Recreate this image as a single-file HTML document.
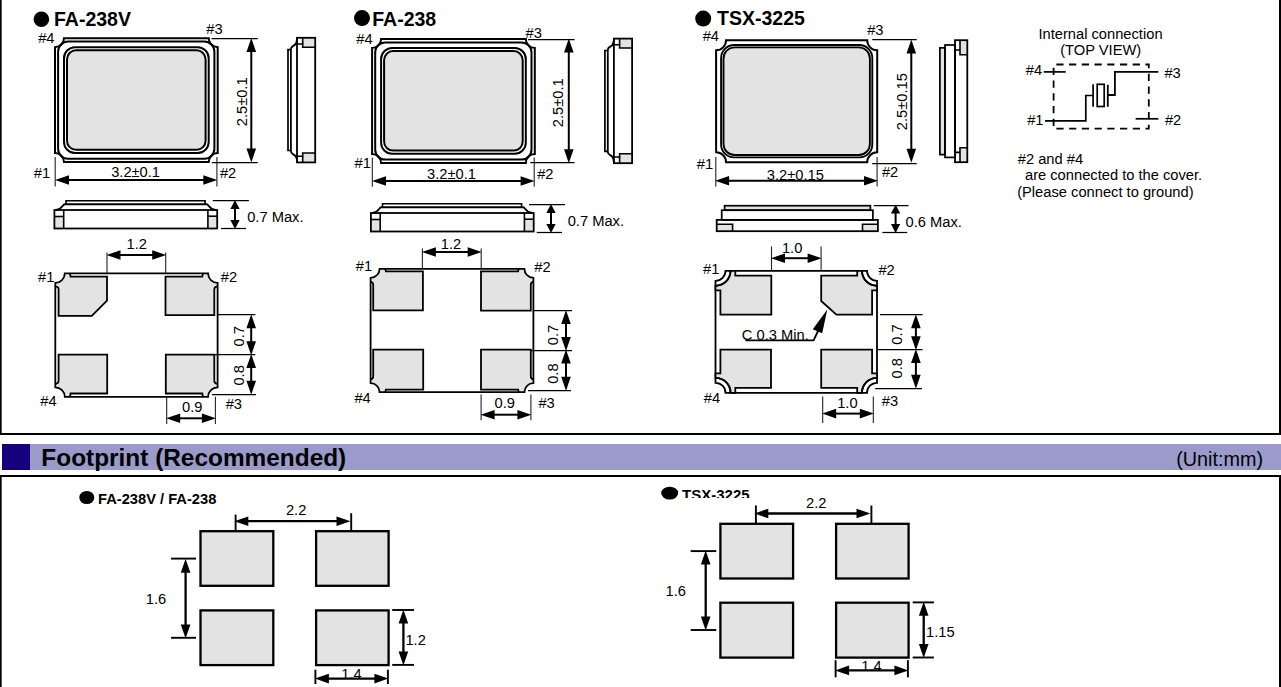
<!DOCTYPE html>
<html><head><meta charset="utf-8"><style>
html,body{margin:0;padding:0;background:#fff;width:1281px;height:687px;overflow:hidden}
svg{display:block}
text{font-family:"Liberation Sans",sans-serif;fill:#000}
</style></head><body>
<svg width="1281" height="687" viewBox="0 0 1281 687">
<line x1="0.8" y1="0" x2="0.8" y2="434" stroke="#000" stroke-width="1.7"/>
<line x1="1280" y1="0" x2="1280" y2="434" stroke="#000" stroke-width="2"/>
<line x1="0" y1="434" x2="1281" y2="434" stroke="#000" stroke-width="2"/>
<line x1="0" y1="476" x2="1281" y2="476" stroke="#000" stroke-width="2"/>
<line x1="0.8" y1="476" x2="0.8" y2="687" stroke="#000" stroke-width="1.7"/>
<line x1="1280" y1="476" x2="1280" y2="687" stroke="#000" stroke-width="2"/>
<rect x="2" y="444" width="1279" height="26" fill="#9b9bcb"/>
<rect x="2" y="444" width="28" height="26" fill="#16007d"/>
<text x="41.35" y="466" font-size="24.4" font-weight="bold">Footprint (Recommended)</text>
<text x="1176.26" y="466" font-size="19.8">(Unit:mm)</text>
<ellipse cx="41.4" cy="19.3" rx="7.8" ry="7.8" fill="#000"/>
<text x="53.98" y="26" font-size="19.5" font-weight="bold">FA-238V</text>
<path d="M64,38.2 H208.7 A9,9 0 0 0 217.7,47.2 V153.1 A9,9 0 0 0 208.7,162.1 H64 A9,9 0 0 0 55,153.1 V47.2 A9,9 0 0 0 64,38.2 Z" fill="none" stroke="#000" stroke-width="2.0"/>
<rect x="58.1" y="41.6" width="156.3" height="117.2" rx="10" ry="10" fill="none" stroke="#000" stroke-width="2.0"/>
<rect x="64" y="47.2" width="144.7" height="105.8" rx="11" ry="11" fill="none" stroke="#000" stroke-width="2.0"/>
<rect x="67" y="50.3" width="138.6" height="99.5" rx="9" ry="9" fill="#e3e3e3" stroke="#000" stroke-width="2.0"/>
<rect x="302.7" y="37.8" width="12.5" height="9.4" fill="#e3e3e3"/>
<rect x="302.7" y="153" width="12.5" height="9.4" fill="#e3e3e3"/>
<rect x="297" y="37.8" width="18.2" height="124.6" fill="none" stroke="#000" stroke-width="1.8"/>
<path d="M297,44 H302.7 V47.2 H315.2" fill="none" stroke="#000" stroke-width="1.6"/>
<path d="M302.7,37.8 V44" fill="none" stroke="#000" stroke-width="1.6"/>
<path d="M297,156.2 H302.7 V153 H315.2" fill="none" stroke="#000" stroke-width="1.6"/>
<path d="M302.7,162.4 V156.2" fill="none" stroke="#000" stroke-width="1.6"/>
<path d="M290.9,49.7 H288 V150.5 H290.9" fill="none" stroke="#000" stroke-width="1.7"/>
<path d="M297,38.5 C297,41 296.5,43 295.2,44.5 C293.5,46.2 290.9,46.3 290.9,49 V151.2 C290.9,153.9 293.5,154 295.2,155.7 C296.5,157.2 297,159.2 297,161.7" fill="none" stroke="#000" stroke-width="1.8"/>
<rect x="54.4" y="216.5" width="9.3" height="12" fill="#e3e3e3"/>
<rect x="207.9" y="216.2" width="9.3" height="12.3" fill="#e3e3e3"/>
<rect x="54.4" y="210" width="162.8" height="18.5" fill="none" stroke="#000" stroke-width="1.8"/>
<line x1="63.7" y1="210" x2="63.7" y2="228.5" stroke="#000" stroke-width="1.6"/>
<line x1="207.9" y1="210" x2="207.9" y2="228.5" stroke="#000" stroke-width="1.6"/>
<line x1="54.4" y1="216.5" x2="63.7" y2="216.5" stroke="#000" stroke-width="1.6"/>
<line x1="207.9" y1="216.2" x2="217.2" y2="216.2" stroke="#000" stroke-width="1.6"/>
<path d="M66,204.3 V200.8 H205.1 V204.3" fill="none" stroke="#000" stroke-width="1.6"/>
<path d="M56,210 C62.3,209.6 62.5,204.3 64.8,204.3 H206.6 C208.9,204.3 209.1,209.6 215.6,210" fill="none" stroke="#000" stroke-width="1.9"/>
<text x="38.13" y="42.8" font-size="14.7">#4</text>
<text x="206.23" y="33.8" font-size="14.7">#3</text>
<text x="33.73" y="177.7" font-size="14.7">#1</text>
<text x="219.93" y="177.9" font-size="14.7">#2</text>
<line x1="55.2" y1="157" x2="55.2" y2="186.6" stroke="#222" stroke-width="1.1"/>
<line x1="216.9" y1="157" x2="216.9" y2="186.6" stroke="#222" stroke-width="1.1"/>
<text x="111.15" y="176.7" font-size="14.7">3.2±0.1</text>
<line x1="68" y1="180" x2="204.3" y2="180" stroke="#000" stroke-width="2.0"/>
<polygon points="55,180 69,175.2 69,184.8" fill="#000"/>
<polygon points="217.3,180 203.3,175.2 203.3,184.8" fill="#000"/>
<line x1="211.6" y1="38.5" x2="257.7" y2="38.5" stroke="#000" stroke-width="1.25"/>
<line x1="211.8" y1="162.5" x2="257.7" y2="162.5" stroke="#000" stroke-width="1.25"/>
<line x1="251.3" y1="51" x2="251.3" y2="149.5" stroke="#000" stroke-width="2.0"/>
<polygon points="251.3,38 246.5,52 256.1,52" fill="#000"/>
<polygon points="251.3,162.5 246.5,148.5 256.1,148.5" fill="#000"/>
<text transform="translate(246.5,126.28) rotate(-90)" x="0" y="0" font-size="14.7">2.5±0.1</text>
<line x1="212.8" y1="200.5" x2="248.9" y2="200.5" stroke="#000" stroke-width="1.25"/>
<line x1="221" y1="228.5" x2="246.1" y2="228.5" stroke="#000" stroke-width="1.25"/>
<line x1="235" y1="208" x2="235" y2="221" stroke="#000" stroke-width="2.0"/>
<polygon points="235,200 230.35,209 239.65,209" fill="#000"/>
<polygon points="235,229 230.35,220 239.65,220" fill="#000"/>
<text x="247.21" y="221.7" font-size="14.7">0.7 Max.</text>
<path d="M58.6,315.9 V289.3 L55.3,283.3 V282.8 A9.5,9.5 0 0 0 64.8,273.3 H70.6 L70.6,276.6 H107 V300.7 L91.8,315.9 Z" fill="#e3e3e3" stroke="none"/>
<path d="M69.1,273.6 Q70.4,273.6 70.6,276.6 H107 V300.7 L91.8,315.9 H58.6 V289.3 Q58.6,286.6 55.6,286.3" fill="none" stroke="#000" stroke-width="1.8"/>
<path d="M214.3,315.2 V289.3 L217.6,283.3 V282.8 A9.5,9.5 0 0 1 208.1,273.3 H202.3 L202.3,276.6 H165.5 V315.2 Z" fill="#e3e3e3" stroke="none"/>
<path d="M203.8,273.6 Q202.5,273.6 202.3,276.6 H165.5 V315.2 H214.3 V289.3 Q214.3,286.6 217.3,286.3" fill="none" stroke="#000" stroke-width="1.8"/>
<path d="M58.6,354.6 V380.8 L55.3,386.8 V387.3 A9.5,9.5 0 0 1 64.8,396.8 H70.6 L70.6,393.5 H107.2 V354.6 Z" fill="#e3e3e3" stroke="none"/>
<path d="M69.1,396.5 Q70.4,396.5 70.6,393.5 H107.2 V354.6 H58.6 V380.8 Q58.6,383.5 55.6,383.8" fill="none" stroke="#000" stroke-width="1.8"/>
<path d="M214.3,354.6 V380.8 L217.6,386.8 V387.3 A9.5,9.5 0 0 0 208.1,396.8 H202.3 L202.3,393.5 H165.8 V354.6 Z" fill="#e3e3e3" stroke="none"/>
<path d="M203.8,396.5 Q202.5,396.5 202.3,393.5 H165.8 V354.6 H214.3 V380.8 Q214.3,383.5 217.3,383.8" fill="none" stroke="#000" stroke-width="1.8"/>
<path d="M64.8,273.3 H208.1 A9.5,9.5 0 0 0 217.6,282.8 V387.3 A9.5,9.5 0 0 0 208.1,396.8 H64.8 A9.5,9.5 0 0 0 55.3,387.3 V282.8 A9.5,9.5 0 0 0 64.8,273.3 Z" fill="none" stroke="#000" stroke-width="1.8"/>
<text x="38.03" y="281.8" font-size="14.7">#1</text>
<text x="220.73" y="281.7" font-size="14.7">#2</text>
<text x="40.23" y="406.1" font-size="14.7">#4</text>
<text x="225.63" y="409" font-size="14.7">#3</text>
<line x1="107" y1="252.5" x2="107" y2="273.3" stroke="#222" stroke-width="1.1"/>
<line x1="165.7" y1="252.5" x2="165.7" y2="273.3" stroke="#222" stroke-width="1.1"/>
<line x1="119.5" y1="255" x2="153.2" y2="255" stroke="#000" stroke-width="2.0"/>
<polygon points="106.5,255 120.5,250.2 120.5,259.8" fill="#000"/>
<polygon points="166.2,255 152.2,250.2 152.2,259.8" fill="#000"/>
<text x="126.6" y="248.9" font-size="14.7">1.2</text>
<line x1="217.8" y1="314.5" x2="255.3" y2="314.5" stroke="#000" stroke-width="1.25"/>
<line x1="215" y1="354.5" x2="255.3" y2="354.5" stroke="#000" stroke-width="1.25"/>
<line x1="212" y1="394.5" x2="256" y2="394.5" stroke="#000" stroke-width="1.25"/>
<line x1="251.2" y1="327.3" x2="251.2" y2="342.3" stroke="#000" stroke-width="2.0"/>
<polygon points="251.2,314.3 246.4,328.3 256,328.3" fill="#000"/>
<polygon points="251.2,355.3 246.4,341.3 256,341.3" fill="#000"/>
<line x1="251.2" y1="366.9" x2="251.2" y2="381.8" stroke="#000" stroke-width="2.0"/>
<polygon points="251.2,353.9 246.4,367.9 256,367.9" fill="#000"/>
<polygon points="251.2,394.8 246.4,380.8 256,380.8" fill="#000"/>
<text transform="translate(243.7,346.54) rotate(-90)" x="0" y="0" font-size="14.7">0.7</text>
<text transform="translate(243.7,385.6) rotate(-90)" x="0" y="0" font-size="14.7">0.8</text>
<line x1="166.7" y1="396.8" x2="166.7" y2="424" stroke="#222" stroke-width="1.1"/>
<line x1="215.4" y1="396.8" x2="215.4" y2="424" stroke="#222" stroke-width="1.1"/>
<line x1="179.2" y1="418.3" x2="202.9" y2="418.3" stroke="#000" stroke-width="2.0"/>
<polygon points="166.2,418.3 180.2,413.5 180.2,423.1" fill="#000"/>
<polygon points="215.9,418.3 201.9,413.5 201.9,423.1" fill="#000"/>
<text x="182.01" y="411.8" font-size="14.7">0.9</text>
<ellipse cx="362" cy="18.1" rx="8" ry="8" fill="#000"/>
<text x="372.28" y="25.5" font-size="19.5" font-weight="bold">FA-238</text>
<path d="M381.1,39 H525.8 A9,9 0 0 0 534.8,48 V153.9 A9,9 0 0 0 525.8,162.9 H381.1 A9,9 0 0 0 372.1,153.9 V48 A9,9 0 0 0 381.1,39 Z" fill="none" stroke="#000" stroke-width="2.0"/>
<rect x="375.2" y="42.4" width="156.3" height="117.2" rx="10" ry="10" fill="none" stroke="#000" stroke-width="2.0"/>
<rect x="381.1" y="48" width="144.7" height="105.8" rx="11" ry="11" fill="none" stroke="#000" stroke-width="2.0"/>
<rect x="384.1" y="51.1" width="138.6" height="99.5" rx="9" ry="9" fill="#e3e3e3" stroke="#000" stroke-width="2.0"/>
<rect x="619.6" y="38.6" width="12.5" height="9.4" fill="#e3e3e3"/>
<rect x="619.6" y="153.8" width="12.5" height="9.4" fill="#e3e3e3"/>
<rect x="613.9" y="38.6" width="18.2" height="124.6" fill="none" stroke="#000" stroke-width="1.8"/>
<path d="M613.9,44.8 H619.6 V48 H632.1" fill="none" stroke="#000" stroke-width="1.6"/>
<path d="M619.6,38.6 V44.8" fill="none" stroke="#000" stroke-width="1.6"/>
<path d="M613.9,157 H619.6 V153.8 H632.1" fill="none" stroke="#000" stroke-width="1.6"/>
<path d="M619.6,163.2 V157" fill="none" stroke="#000" stroke-width="1.6"/>
<path d="M607.8,50.5 H604.9 V151.3 H607.8" fill="none" stroke="#000" stroke-width="1.7"/>
<path d="M613.9,39.3 C613.9,41.8 613.4,43.8 612.1,45.3 C610.4,47 607.8,47.1 607.8,49.8 V152 C607.8,154.7 610.4,154.8 612.1,156.5 C613.4,158 613.9,160 613.9,162.5" fill="none" stroke="#000" stroke-width="1.8"/>
<rect x="370.9" y="219.5" width="9.3" height="12" fill="#e3e3e3"/>
<rect x="524.4" y="219.2" width="9.3" height="12.3" fill="#e3e3e3"/>
<rect x="370.9" y="213" width="162.8" height="18.5" fill="none" stroke="#000" stroke-width="1.8"/>
<line x1="380.2" y1="213" x2="380.2" y2="231.5" stroke="#000" stroke-width="1.6"/>
<line x1="524.4" y1="213" x2="524.4" y2="231.5" stroke="#000" stroke-width="1.6"/>
<line x1="370.9" y1="219.5" x2="380.2" y2="219.5" stroke="#000" stroke-width="1.6"/>
<line x1="524.4" y1="219.2" x2="533.7" y2="219.2" stroke="#000" stroke-width="1.6"/>
<path d="M382.5,207.3 V203.8 H521.6 V207.3" fill="none" stroke="#000" stroke-width="1.6"/>
<path d="M372.5,213 C378.8,212.6 379,207.3 381.3,207.3 H523.1 C525.4,207.3 525.6,212.6 532.1,213" fill="none" stroke="#000" stroke-width="1.9"/>
<text x="356.23" y="43.8" font-size="14.7">#4</text>
<text x="525.53" y="38.2" font-size="14.7">#3</text>
<text x="354.53" y="167.8" font-size="14.7">#1</text>
<text x="537.13" y="179" font-size="14.7">#2</text>
<line x1="372.3" y1="157.5" x2="372.3" y2="186.7" stroke="#222" stroke-width="1.1"/>
<line x1="534.2" y1="157.5" x2="534.2" y2="186.7" stroke="#222" stroke-width="1.1"/>
<text x="427.05" y="179" font-size="14.7">3.2±0.1</text>
<line x1="385" y1="181" x2="521.6" y2="181" stroke="#000" stroke-width="2.0"/>
<polygon points="372,181 386,176.2 386,185.8" fill="#000"/>
<polygon points="534.6,181 520.6,176.2 520.6,185.8" fill="#000"/>
<line x1="528" y1="39.5" x2="574.6" y2="39.5" stroke="#000" stroke-width="1.25"/>
<line x1="530.3" y1="162.5" x2="574.6" y2="162.5" stroke="#000" stroke-width="1.25"/>
<line x1="568.8" y1="51.6" x2="568.8" y2="150.3" stroke="#000" stroke-width="2.0"/>
<polygon points="568.8,38.6 564,52.6 573.6,52.6" fill="#000"/>
<polygon points="568.8,163.3 564,149.3 573.6,149.3" fill="#000"/>
<text transform="translate(563.4,127.18) rotate(-90)" x="0" y="0" font-size="14.7">2.5±0.1</text>
<line x1="529" y1="204.5" x2="565" y2="204.5" stroke="#000" stroke-width="1.25"/>
<line x1="536.7" y1="232.5" x2="562" y2="232.5" stroke="#000" stroke-width="1.25"/>
<line x1="551" y1="212" x2="551" y2="225" stroke="#000" stroke-width="2.0"/>
<polygon points="551,204 546.35,213 555.65,213" fill="#000"/>
<polygon points="551,233 546.35,224 555.65,224" fill="#000"/>
<text x="567.71" y="225.9" font-size="14.7">0.7 Max.</text>
<path d="M373.2,310.3 V284.8 L370.6,278.3 V277.8 A9,9 0 0 0 379.6,268.8 H385.9 L385.9,271.4 H422.9 V310.3 Z" fill="#e3e3e3" stroke="none"/>
<path d="M384.4,269.1 Q385.7,269.1 385.9,271.4 H422.9 V310.3 H373.2 V284.8 Q373.2,282.1 370.9,281.8" fill="none" stroke="#000" stroke-width="1.8"/>
<path d="M530.8,310.6 V284.8 L533.4,278.3 V277.8 A9,9 0 0 1 524.4,268.8 H518.1 L518.1,271.4 H481 V310.6 Z" fill="#e3e3e3" stroke="none"/>
<path d="M519.6,269.1 Q518.3,269.1 518.1,271.4 H481 V310.6 H530.8 V284.8 Q530.8,282.1 533.1,281.8" fill="none" stroke="#000" stroke-width="1.8"/>
<path d="M373.2,349.7 V376.2 L370.6,382.7 V383.2 A9,9 0 0 1 379.6,392.2 H385.9 L385.9,389.6 H423.2 V349.7 Z" fill="#e3e3e3" stroke="none"/>
<path d="M384.4,391.9 Q385.7,391.9 385.9,389.6 H423.2 V349.7 H373.2 V376.2 Q373.2,378.9 370.9,379.2" fill="none" stroke="#000" stroke-width="1.8"/>
<path d="M530.8,349.7 V376.2 L533.4,382.7 V383.2 A9,9 0 0 0 524.4,392.2 H518.1 L518.1,389.6 H481 V349.7 Z" fill="#e3e3e3" stroke="none"/>
<path d="M519.6,391.9 Q518.3,391.9 518.1,389.6 H481 V349.7 H530.8 V376.2 Q530.8,378.9 533.1,379.2" fill="none" stroke="#000" stroke-width="1.8"/>
<path d="M379.6,268.8 H524.4 A9,9 0 0 0 533.4,277.8 V383.2 A9,9 0 0 0 524.4,392.2 H379.6 A9,9 0 0 0 370.6,383.2 V277.8 A9,9 0 0 0 379.6,268.8 Z" fill="none" stroke="#000" stroke-width="1.8"/>
<text x="355.83" y="271.1" font-size="14.7">#1</text>
<text x="534.33" y="271.8" font-size="14.7">#2</text>
<text x="354.43" y="402.7" font-size="14.7">#4</text>
<text x="538.43" y="407.6" font-size="14.7">#3</text>
<line x1="422.4" y1="248.4" x2="422.4" y2="268.8" stroke="#222" stroke-width="1.1"/>
<line x1="481.2" y1="248.4" x2="481.2" y2="268.8" stroke="#222" stroke-width="1.1"/>
<line x1="434.9" y1="252" x2="468.7" y2="252" stroke="#000" stroke-width="2.0"/>
<polygon points="421.9,252 435.9,247.2 435.9,256.8" fill="#000"/>
<polygon points="481.7,252 467.7,247.2 467.7,256.8" fill="#000"/>
<text x="440.8" y="249.3" font-size="14.7">1.2</text>
<line x1="533.4" y1="310.5" x2="572" y2="310.5" stroke="#000" stroke-width="1.25"/>
<line x1="531" y1="350.5" x2="572" y2="350.5" stroke="#000" stroke-width="1.25"/>
<line x1="528" y1="390.5" x2="571" y2="390.5" stroke="#000" stroke-width="1.25"/>
<line x1="566" y1="323" x2="566" y2="338" stroke="#000" stroke-width="2.0"/>
<polygon points="566,310 561.2,324 570.8,324" fill="#000"/>
<polygon points="566,351 561.2,337 570.8,337" fill="#000"/>
<line x1="566" y1="362.6" x2="566" y2="377.7" stroke="#000" stroke-width="2.0"/>
<polygon points="566,349.6 561.2,363.6 570.8,363.6" fill="#000"/>
<polygon points="566,390.7 561.2,376.7 570.8,376.7" fill="#000"/>
<text transform="translate(558,345.24) rotate(-90)" x="0" y="0" font-size="14.7">0.7</text>
<text transform="translate(558,383.8) rotate(-90)" x="0" y="0" font-size="14.7">0.8</text>
<line x1="481.1" y1="394.5" x2="481.1" y2="420.3" stroke="#222" stroke-width="1.1"/>
<line x1="530.9" y1="394.5" x2="530.9" y2="420.3" stroke="#222" stroke-width="1.1"/>
<line x1="493.6" y1="414.7" x2="518.4" y2="414.7" stroke="#000" stroke-width="2.0"/>
<polygon points="480.6,414.7 494.6,409.9 494.6,419.5" fill="#000"/>
<polygon points="531.4,414.7 517.4,409.9 517.4,419.5" fill="#000"/>
<text x="494.51" y="407.6" font-size="14.7">0.9</text>
<ellipse cx="703.2" cy="18.6" rx="8" ry="8" fill="#000"/>
<text x="717.06" y="25.4" font-size="19.5" font-weight="bold">TSX-3225</text>
<path d="M726.1,40.3 H867.2 A10,10 0 0 0 877.2,50.3 V152.3 A10,10 0 0 0 867.2,162.3 H726.1 A10,10 0 0 0 716.1,152.3 V50.3 A10,10 0 0 0 726.1,40.3 Z" fill="none" stroke="#000" stroke-width="2.0"/>
<rect x="721.1" y="45" width="151.2" height="112.4" rx="13" ry="13" fill="none" stroke="#000" stroke-width="1.9"/>
<rect x="723.5" y="47.4" width="146.4" height="107.6" rx="11" ry="11" fill="#e3e3e3" stroke="#000" stroke-width="1.9"/>
<text x="702.63" y="40.8" font-size="14.7">#4</text>
<text x="867.13" y="34.8" font-size="14.7">#3</text>
<text x="696.73" y="169" font-size="14.7">#1</text>
<text x="881.93" y="177.4" font-size="14.7">#2</text>
<line x1="715.8" y1="157" x2="715.8" y2="186.4" stroke="#222" stroke-width="1.1"/>
<line x1="877.1" y1="157" x2="877.1" y2="186.4" stroke="#222" stroke-width="1.1"/>
<text x="766.85" y="179.8" font-size="14.7">3.2±0.15</text>
<line x1="728.1" y1="180.8" x2="865" y2="180.8" stroke="#000" stroke-width="2.0"/>
<polygon points="715.1,180.8 729.1,176 729.1,185.6" fill="#000"/>
<polygon points="878,180.8 864,176 864,185.6" fill="#000"/>
<line x1="872.2" y1="39.5" x2="916.7" y2="39.5" stroke="#000" stroke-width="1.25"/>
<line x1="872.2" y1="163.5" x2="916.7" y2="163.5" stroke="#000" stroke-width="1.25"/>
<line x1="911.3" y1="52.4" x2="911.3" y2="149.7" stroke="#000" stroke-width="2.0"/>
<polygon points="911.3,39.4 906.5,53.4 916.1,53.4" fill="#000"/>
<polygon points="911.3,162.7 906.5,148.7 916.1,148.7" fill="#000"/>
<text transform="translate(906.8,130.13) rotate(-90)" x="0" y="0" font-size="14.7">2.5±0.15</text>
<rect x="939.9" y="47.8" width="5.1" height="106.8" fill="#e3e3e3"/>
<rect x="960" y="40.2" width="7.3" height="14.5" fill="#e3e3e3"/>
<rect x="960" y="147.7" width="7.3" height="14.5" fill="#e3e3e3"/>
<rect x="939.9" y="47.8" width="5.1" height="106.8" fill="none" stroke="#000" stroke-width="1.7"/>
<rect x="945" y="45" width="10" height="112.4" fill="none" stroke="#000" stroke-width="1.7"/>
<rect x="955" y="40.2" width="12.3" height="122" fill="none" stroke="#000" stroke-width="1.8"/>
<path d="M955,50 H960 V40.2 M960,50 V54.7 H967.3" fill="none" stroke="#000" stroke-width="1.6"/>
<path d="M955,152.4 H960 V162.2 M960,152.4 V147.7 H967.3" fill="none" stroke="#000" stroke-width="1.6"/>
<rect x="716.7" y="224.2" width="15.9" height="7" fill="#e3e3e3"/>
<rect x="862.5" y="224.2" width="15.4" height="7" fill="#e3e3e3"/>
<rect x="724.6" y="205.7" width="145.8" height="4.5" fill="#e3e3e3"/>
<rect x="716.7" y="219.9" width="161.2" height="11.3" fill="none" stroke="#000" stroke-width="1.8"/>
<path d="M716.7,224.2 H732.6 V231.2 M862.5,231.2 V224.2 H877.9" fill="none" stroke="#000" stroke-width="1.6"/>
<rect x="721.7" y="210.2" width="151.2" height="9.7" fill="none" stroke="#000" stroke-width="1.7"/>
<rect x="724.6" y="205.7" width="145.8" height="4.5" fill="none" stroke="#000" stroke-width="1.7"/>
<line x1="873.8" y1="205.5" x2="908.5" y2="205.5" stroke="#000" stroke-width="1.25"/>
<line x1="882.4" y1="232.5" x2="907.3" y2="232.5" stroke="#000" stroke-width="1.25"/>
<line x1="895.6" y1="212.4" x2="895.6" y2="225" stroke="#000" stroke-width="2.0"/>
<polygon points="895.6,204.4 890.95,213.4 900.25,213.4" fill="#000"/>
<polygon points="895.6,233 890.95,224 900.25,224" fill="#000"/>
<text x="905.61" y="227.2" font-size="14.7">0.6 Max.</text>
<g>
<path d="M725.5,270.8 H867 A10,10 0 0 0 877,280.8 V382.8 A10,10 0 0 0 867,392.8 H725.5 A10,10 0 0 0 715.5,382.8 V280.8 A10,10 0 0 0 725.5,270.8 Z" fill="none" stroke="#000" stroke-width="1.8"/>
<path d="M720.4,314.6 V290.3 H715.5 V285.8 A15,15 0 0 0 730.5,270.8 H735.3 V275.7 H771.3 V314.6 Z" fill="#e3e3e3" stroke="#000" stroke-width="1.8"/>
<path d="M715.5,285.8 A15,15 0 0 0 730.5,270.8" fill="none" stroke="#000" stroke-width="1.8"/>
<path d="M872.1,314.6 V290.3 H877 V285.8 A15,15 0 0 1 862,270.8 H857.2 V275.7 H821.2 V301 L836.4,314.6 Z" fill="#e3e3e3" stroke="#000" stroke-width="1.8"/>
<path d="M877,285.8 A15,15 0 0 1 862,270.8" fill="none" stroke="#000" stroke-width="1.8"/>
<path d="M720.4,349.6 V373.3 H715.5 V377.8 A15,15 0 0 1 730.5,392.8 H735.3 V387.9 H771 V349.6 Z" fill="#e3e3e3" stroke="#000" stroke-width="1.8"/>
<path d="M715.5,377.8 A15,15 0 0 1 730.5,392.8" fill="none" stroke="#000" stroke-width="1.8"/>
<path d="M872.1,349.6 V373.3 H877 V377.8 A15,15 0 0 0 862,392.8 H857.2 V387.9 H821.2 V349.6 Z" fill="#e3e3e3" stroke="#000" stroke-width="1.8"/>
<path d="M877,377.8 A15,15 0 0 0 862,392.8" fill="none" stroke="#000" stroke-width="1.8"/>
</g>
<text x="703.03" y="273.9" font-size="14.7">#1</text>
<text x="878.43" y="274.6" font-size="14.7">#2</text>
<text x="703.73" y="403.2" font-size="14.7">#4</text>
<text x="881.73" y="405.7" font-size="14.7">#3</text>
<line x1="771.5" y1="246.4" x2="771.5" y2="270.8" stroke="#222" stroke-width="1.1"/>
<line x1="821.1" y1="246.4" x2="821.1" y2="270.8" stroke="#222" stroke-width="1.1"/>
<line x1="784" y1="258.2" x2="808.6" y2="258.2" stroke="#000" stroke-width="2.0"/>
<polygon points="771,258.2 785,253.4 785,263" fill="#000"/>
<polygon points="821.6,258.2 807.6,253.4 807.6,263" fill="#000"/>
<text x="781.9" y="253" font-size="14.7">1.0</text>
<line x1="880" y1="314.5" x2="922.5" y2="314.5" stroke="#000" stroke-width="1.25"/>
<line x1="877" y1="349.5" x2="922.5" y2="349.5" stroke="#000" stroke-width="1.25"/>
<line x1="875.2" y1="388.5" x2="922" y2="388.5" stroke="#000" stroke-width="1.25"/>
<line x1="915.9" y1="327.2" x2="915.9" y2="337.2" stroke="#000" stroke-width="2.0"/>
<polygon points="915.9,314.2 911.1,328.2 920.7,328.2" fill="#000"/>
<polygon points="915.9,350.2 911.1,336.2 920.7,336.2" fill="#000"/>
<line x1="915.9" y1="362" x2="915.9" y2="375.7" stroke="#000" stroke-width="2.0"/>
<polygon points="915.9,349 911.1,363 920.7,363" fill="#000"/>
<polygon points="915.9,388.7 911.1,374.7 920.7,374.7" fill="#000"/>
<text transform="translate(901.7,344.74) rotate(-90)" x="0" y="0" font-size="14.7">0.7</text>
<text transform="translate(901.7,378.4) rotate(-90)" x="0" y="0" font-size="14.7">0.8</text>
<text x="741.87" y="339.8" font-size="14.7">C 0.3 Min.</text>
<path d="M745.5,340.3 H813.6 L818.5,330" fill="none" stroke="#000" stroke-width="1.8"/>
<polygon points="827.3,309.6 812.8,329.2 822.2,333.2" fill="#000"/>
<line x1="822.7" y1="396.6" x2="822.7" y2="423.1" stroke="#222" stroke-width="1.1"/>
<line x1="873.3" y1="396.6" x2="873.3" y2="423.1" stroke="#222" stroke-width="1.1"/>
<line x1="835.2" y1="413.6" x2="860.8" y2="413.6" stroke="#000" stroke-width="2.0"/>
<polygon points="822.2,413.6 836.2,408.8 836.2,418.4" fill="#000"/>
<polygon points="873.8,413.6 859.8,408.8 859.8,418.4" fill="#000"/>
<text x="837.2" y="407.6" font-size="14.7">1.0</text>
<text x="1038.44" y="38.8" font-size="14.7">Internal connection</text>
<text x="1060.18" y="55" font-size="14.7">(TOP VIEW)</text>
<rect x="1053.6" y="64.5" width="95.2" height="64.2" fill="none" stroke="#000" stroke-width="1.8" stroke-dasharray="7.2 5.53" stroke-dashoffset="10"/>
<line x1="1043.8" y1="71.9" x2="1065.7" y2="71.9" stroke="#000" stroke-width="1.7"/>
<path d="M1158.4,71.9 H1114.9 V95 H1107.8" fill="none" stroke="#000" stroke-width="1.8"/>
<path d="M1045,120.9 H1085.8 V95.5 H1093" fill="none" stroke="#000" stroke-width="1.7"/>
<line x1="1135.6" y1="118.8" x2="1158.4" y2="118.8" stroke="#000" stroke-width="1.7"/>
<line x1="1093.1" y1="84.3" x2="1093.1" y2="106.8" stroke="#000" stroke-width="1.7"/>
<line x1="1107.8" y1="84.8" x2="1107.8" y2="106.8" stroke="#000" stroke-width="1.8"/>
<rect x="1097.2" y="84.3" width="7" height="22.2" fill="none" stroke="#000" stroke-width="1.7"/>
<text x="1025.73" y="75.1" font-size="14.7">#4</text>
<text x="1164.43" y="77.7" font-size="14.7">#3</text>
<text x="1027.13" y="124.5" font-size="14.7">#1</text>
<text x="1164.93" y="124.5" font-size="14.7">#2</text>
<text x="1017.73" y="163.7" font-size="14.7">#2 and #4</text>
<text x="1024.98" y="180.3" font-size="14.7">are connected to the cover.</text>
<text x="1017.18" y="197" font-size="14.7">(Please connect to ground)</text>
<ellipse cx="86.8" cy="497.5" rx="7.5" ry="6.6" fill="#000"/>
<text x="98.01" y="504" font-size="14.7" font-weight="bold">FA-238V / FA-238</text>
<rect x="200.5" y="531.2" width="72.8" height="54.6" fill="#e3e3e3" stroke="#000" stroke-width="2.3"/>
<rect x="200.5" y="610.4" width="72.8" height="54.7" fill="#e3e3e3" stroke="#000" stroke-width="2.3"/>
<rect x="316.1" y="531.2" width="72.5" height="54.6" fill="#e3e3e3" stroke="#000" stroke-width="2.3"/>
<rect x="316.1" y="610.4" width="72.5" height="54.7" fill="#e3e3e3" stroke="#000" stroke-width="2.3"/>
<line x1="235.6" y1="514.6" x2="235.6" y2="531" stroke="#000" stroke-width="1.9"/>
<line x1="351.2" y1="513.2" x2="351.2" y2="531" stroke="#000" stroke-width="1.9"/>
<line x1="247.3" y1="521.2" x2="337.5" y2="521.2" stroke="#000" stroke-width="2.3"/>
<polygon points="234.3,521.2 248.3,516.4 248.3,526" fill="#000"/>
<polygon points="350.5,521.2 336.5,516.4 336.5,526" fill="#000"/>
<text x="285.96" y="514.9" font-size="14.7">2.2</text>
<line x1="171.1" y1="558.6" x2="196" y2="558.6" stroke="#000" stroke-width="1.9"/>
<line x1="171.1" y1="637.8" x2="196" y2="637.8" stroke="#000" stroke-width="1.9"/>
<line x1="185.6" y1="571.7" x2="185.6" y2="625.4" stroke="#000" stroke-width="2.3"/>
<polygon points="185.6,558.7 180.8,572.7 190.4,572.7" fill="#000"/>
<polygon points="185.6,638.4 180.8,624.4 190.4,624.4" fill="#000"/>
<text x="145.8" y="603.7" font-size="14.7">1.6</text>
<line x1="392.2" y1="610" x2="414" y2="610" stroke="#000" stroke-width="1.9"/>
<line x1="392.2" y1="664.9" x2="414" y2="664.9" stroke="#000" stroke-width="1.9"/>
<line x1="403.4" y1="622.5" x2="403.4" y2="652.4" stroke="#000" stroke-width="2.3"/>
<polygon points="403.4,609.5 398.6,623.5 408.2,623.5" fill="#000"/>
<polygon points="403.4,665.4 398.6,651.4 408.2,651.4" fill="#000"/>
<text x="405.4" y="644.6" font-size="14.7">1.2</text>
<text x="341.2" y="679" font-size="14.7">1.4</text>
<line x1="315.4" y1="669.7" x2="315.4" y2="684" stroke="#000" stroke-width="1.9"/>
<line x1="387.9" y1="669.7" x2="387.9" y2="684" stroke="#000" stroke-width="1.9"/>
<line x1="327.9" y1="678.6" x2="375.4" y2="678.6" stroke="#000" stroke-width="2.3"/>
<polygon points="314.9,678.6 328.9,673.8 328.9,683.4" fill="#000"/>
<polygon points="388.4,678.6 374.4,673.8 374.4,683.4" fill="#000"/>
<ellipse cx="669.7" cy="493.1" rx="8.5" ry="6.4" fill="#000"/>
<clipPath id="c1"><rect x="600" y="480" width="200" height="18"/></clipPath>
<text x="682.11" y="499.6" font-size="15" font-weight="bold" clip-path="url(#c1)">TSX-3225</text>
<rect x="720.4" y="523.8" width="72.7" height="54.7" fill="#e3e3e3" stroke="#000" stroke-width="2.3"/>
<rect x="720.4" y="602.7" width="72.7" height="54.9" fill="#e3e3e3" stroke="#000" stroke-width="2.3"/>
<rect x="836.1" y="523.8" width="72.5" height="54.7" fill="#e3e3e3" stroke="#000" stroke-width="2.3"/>
<rect x="836.1" y="602.7" width="72.5" height="54.9" fill="#e3e3e3" stroke="#000" stroke-width="2.3"/>
<line x1="755.9" y1="505.5" x2="755.9" y2="523.5" stroke="#000" stroke-width="1.9"/>
<line x1="871.4" y1="505.5" x2="871.4" y2="523.5" stroke="#000" stroke-width="1.9"/>
<line x1="767.3" y1="513.5" x2="857.5" y2="513.5" stroke="#000" stroke-width="2.3"/>
<polygon points="754.3,513.5 768.3,508.7 768.3,518.3" fill="#000"/>
<polygon points="870.5,513.5 856.5,508.7 856.5,518.3" fill="#000"/>
<text x="805.97" y="507.5" font-size="14.7">2.2</text>
<line x1="690.7" y1="551.1" x2="716.3" y2="551.1" stroke="#000" stroke-width="1.9"/>
<line x1="690.7" y1="630" x2="716.3" y2="630" stroke="#000" stroke-width="1.9"/>
<line x1="705.7" y1="563.5" x2="705.7" y2="617.6" stroke="#000" stroke-width="2.3"/>
<polygon points="705.7,550.5 700.9,564.5 710.5,564.5" fill="#000"/>
<polygon points="705.7,630.6 700.9,616.6 710.5,616.6" fill="#000"/>
<text x="665.5" y="596" font-size="14.7">1.6</text>
<line x1="912.7" y1="602.4" x2="933.9" y2="602.4" stroke="#000" stroke-width="1.9"/>
<line x1="912.7" y1="657.5" x2="933.9" y2="657.5" stroke="#000" stroke-width="1.9"/>
<line x1="923.7" y1="614.8" x2="923.7" y2="645.1" stroke="#000" stroke-width="2.3"/>
<polygon points="923.7,601.8 918.9,615.8 928.5,615.8" fill="#000"/>
<polygon points="923.7,658.1 918.9,644.1 928.5,644.1" fill="#000"/>
<text x="926" y="636.6" font-size="14.7">1.15</text>
<text x="861.3" y="670.5" font-size="14.7">1.4</text>
<line x1="835.6" y1="660.2" x2="835.6" y2="677.3" stroke="#000" stroke-width="1.9"/>
<line x1="907.9" y1="660.2" x2="907.9" y2="677.3" stroke="#000" stroke-width="1.9"/>
<line x1="848.1" y1="670.4" x2="895.4" y2="670.4" stroke="#000" stroke-width="2.3"/>
<polygon points="835.1,670.4 849.1,665.6 849.1,675.2" fill="#000"/>
<polygon points="908.4,670.4 894.4,665.6 894.4,675.2" fill="#000"/>
</svg>
</body></html>
